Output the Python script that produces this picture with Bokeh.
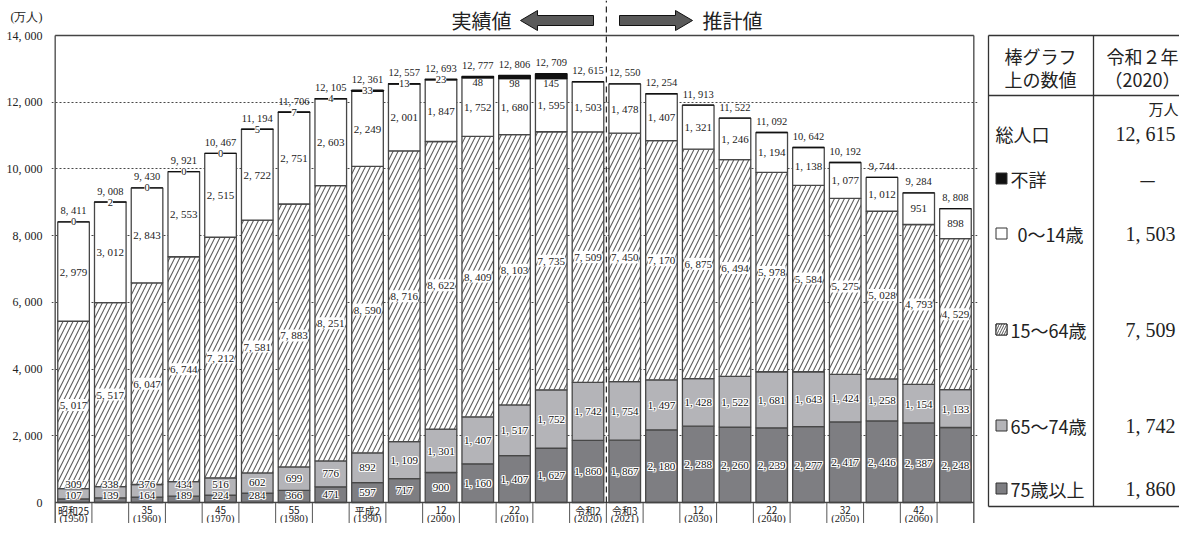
import numpy as np
from bokeh.plotting import figure
from bokeh.models import ColumnDataSource, Range1d, FixedTicker
from bokeh.layouts import row
from bokeh.core.properties import value
from bokeh.embed import file_html
from bokeh.resources import INLINE

# ---------------- data ----------------
years = [1950, 1955, 1960, 1965, 1970, 1975, 1980, 1985, 1990, 1995, 2000, 2005, 2010,
         2015, 2020, 2021, 2025, 2030, 2035, 2040, 2045, 2050, 2055, 2060, 2065]
era_labels = ["昭和25", "", "35", "", "45", "", "55", "", "平成2", "", "12", "", "22", "",
              "令和2", "令和3", "", "12", "", "22", "", "32", "", "42", ""]
year_labels = ["(1950)", "", "(1960)", "", "(1970)", "", "(1980)", "", "(1990)", "", "(2000)", "",
               "(2010)", "", "(2020)", "(2021)", "", "(2030)", "", "(2040)", "", "(2050)", "",
               "(2060)", ""]
age75 = [107, 139, 164, 189, 224, 284, 366, 471, 597, 717, 900, 1160, 1407, 1627, 1860, 1867,
         2180, 2288, 2260, 2239, 2277, 2417, 2446, 2387, 2248]
age65 = [309, 338, 376, 434, 516, 602, 699, 776, 892, 1109, 1301, 1407, 1517, 1752, 1742, 1754,
         1497, 1428, 1522, 1681, 1643, 1424, 1258, 1154, 1133]
age15 = [5017, 5517, 6047, 6744, 7212, 7581, 7883, 8251, 8590, 8716, 8622, 8409, 8103, 7735,
         7509, 7450, 7170, 6875, 6494, 5978, 5584, 5275, 5028, 4793, 4529]
age0 = [2979, 3012, 2843, 2553, 2515, 2722, 2751, 2603, 2249, 2001, 1847, 1752, 1680, 1595,
        1503, 1478, 1407, 1321, 1246, 1194, 1138, 1077, 1012, 951, 898]
unknown = [0, 2, 0, 0, 0, 5, 7, 4, 33, 13, 23, 48, 98, 145, None, None, None, None, None, None,
           None, None, None, None, None]
totals = [8411, 9008, 9430, 9921, 10467, 11194, 11706, 12105, 12361, 12557, 12693, 12777, 12806,
          12709, 12615, 12550, 12254, 11913, 11522, 11092, 10642, 10192, 9744, 9284, 8808]
y_ticks = [0, 2000, 4000, 6000, 8000, 10000, 12000, 14000]
grid_ticks = [2000, 4000, 6000, 8000, 10000, 12000]
unit_label = "(万人)"
legend_labels = ["総人口", "不詳", "0～14歳", "15～64歳", "65～74歳", "75歳以上"]
REF_YEAR = 2020


def fmt(v):
    return f"{int(v):,}".replace(",", ", ")


SERIF = "Liberation Serif"
JP = "Noto Sans CJK JP"
TXT = "#222222"

# ---------------- geometry (page pixels) ----------------
W_ALL, H = 1179, 523
W1 = 979
BL = 51
X0, X1 = -0.6, 24.6
PXD = 14000 / 467.0                 # value units per pixel
Y_TOP = 14000 + 35 * PXD
Y_BOT = -(H - 502) * PXD
SLOT = (W1 - BL - 2) / (X1 - X0)


def py(page_y):
    return (502 - page_y) * PXD


def px(page_x):
    return X0 + (page_x - BL) / SLOT


n = len(years)
xs = np.arange(n)
a75 = np.array(age75, float)
a65 = np.array(age65, float)
a15 = np.array(age15, float)
a0 = np.array(age0, float)
unk = np.array([np.nan if u is None else u for u in unknown], float)
unk0 = np.nan_to_num(unk)

t75 = a75
t65 = t75 + a65
t15 = t65 + a15
t0 = t15 + a0
tu = t0 + unk0

src = ColumnDataSource(dict(x=xs, t75=t75, t65=t65, t15=t15, t0=t0, tu=tu))

p = figure(width=W1, height=H, x_range=Range1d(X0, X1), y_range=Range1d(Y_BOT, Y_TOP),
           x_axis_location=None, toolbar_location=None, output_backend="svg",
           min_border_left=BL, min_border_right=2, min_border_top=0, min_border_bottom=0)
p.outline_line_color = None
p.background_fill_color = "white"
p.xgrid.visible = False
p.ygrid.ticker = FixedTicker(ticks=grid_ticks)
p.ygrid.grid_line_dash = "2 2"
p.ygrid.grid_line_color = "#333333"
p.ygrid.grid_line_width = 0.9
unit_pos = py(16)
p.yaxis.ticker = FixedTicker(ticks=y_ticks + [unit_pos])
overrides = {t: fmt(t) for t in y_ticks}
overrides[unit_pos] = unit_label
p.yaxis.major_label_overrides = overrides
p.yaxis.axis_line_color = None
p.yaxis.major_tick_line_color = None
p.yaxis.minor_tick_line_color = None
p.yaxis.major_label_text_font = SERIF
p.yaxis.major_label_text_font_size = "12px"
p.yaxis.major_label_text_color = TXT
p.yaxis.major_label_standoff = 3

BW = 0.86
LC = "#474747"
LW = 1.3
p.vbar(x="x", width=BW, bottom=0, top="t75", fill_color="#7e7e82", line_color=LC,
       line_width=LW, source=src)
p.vbar(x="x", width=BW, bottom="t75", top="t65", fill_color="#b4b4b8", line_color=LC,
       line_width=LW, source=src)
p.vbar(x="x", width=BW, bottom="t65", top="t15", fill_color="white", hatch_pattern="/",
       hatch_color="#5e5e5e", hatch_scale=10, hatch_weight=1.1, line_color=LC,
       line_width=LW, source=src)
p.vbar(x="x", width=BW, bottom="t15", top="t0", fill_color="white", line_color=LC,
       line_width=LW, source=src)
p.vbar(x="x", width=BW, bottom="t0", top="tu", fill_color="#111111", line_color="#111111",
       line_width=LW, source=src)

# frame and label grid
bnd = xs - 0.5
p.segment(x0=bnd[1:], y0=Y_BOT, x1=bnd[1:], y1=0, line_color="#555555", line_width=1)
p.segment(x0=[-0.5, n - 0.5], y0=[Y_BOT, Y_BOT], x1=[-0.5, n - 0.5], y1=[14000, 14000],
          line_color="#444444", line_width=1.3)
p.segment(x0=[-0.5, -0.5], y0=[14000, 0], x1=[n - 0.5, n - 0.5], y1=[14000, 0],
          line_color="#444444", line_width=1.3)

# divider between actual and projected
split = years.index(REF_YEAR) + 0.5
p.segment(x0=[split], y0=[0], x1=[split], y1=[Y_TOP], line_color="#222222", line_width=1.2,
          line_dash="6 4")

# ---------------- value labels ----------------
y75 = np.maximum(a75 / 2, 7 * PXD)
y65 = np.maximum(t75 + a65 / 2, y75 + 11 * PXD)
y15 = t65 + a15 / 2
y0 = t15 + a0 / 2

halo = [(dx, dy) for dx in (-1, 0, 1) for dy in (-1, 0, 1) if (dx, dy) != (0, 0)]
for yy, vals in ((y75, a75), (y65, a65)):
    labels = [fmt(v) for v in vals]
    for dx, dy in halo:
        p.text(x=xs, y=yy, text=labels, text_font=value(SERIF), text_font_size="11px",
               text_align="center", text_baseline="middle", text_color="white",
               x_offset=dx, y_offset=dy)
    p.text(x=xs, y=yy, text=labels, text_font=value(SERIF), text_font_size="11px",
           text_align="center", text_baseline="middle", text_color="#111111")

p.text(x=xs, y=y15, text=[fmt(v) for v in a15], text_font=value(SERIF), text_font_size="11px",
       text_align="center", text_baseline="middle", text_color=TXT,
       background_fill_color="white")
p.text(x=xs, y=y0, text=[fmt(v) for v in a0], text_font=value(SERIF), text_font_size="11px",
       text_align="center", text_baseline="middle", text_color=TXT)

on_line = [i for i in range(n) if not np.isnan(unk[i]) and unk[i] < 40]
below = [i for i in range(n) if not np.isnan(unk[i]) and unk[i] >= 40]
p.text(x=[xs[i] for i in on_line], y=[tu[i] for i in on_line],
       text=[fmt(unk[i]) for i in on_line], text_font=value(SERIF), text_font_size="10.5px",
       text_align="center", text_baseline="middle", text_color=TXT,
       background_fill_color="white")
p.text(x=[xs[i] for i in below], y=[t0[i] - 1 * PXD for i in below],
       text=[fmt(unk[i]) for i in below], text_font=value(SERIF), text_font_size="10.5px",
       text_align="center", text_baseline="top", text_color=TXT)

p.text(x=xs, y=tu + 11 * PXD, text=[fmt(v) for v in totals], text_font=value(SERIF),
       text_font_size="10.5px", text_align="center", text_baseline="middle",
       text_color=TXT)

# category labels
p.text(x=xs, y=py(509.5), text=era_labels, text_font=value(JP), text_font_size="10px",
       text_align="center", text_baseline="middle", text_color=TXT)
p.text(x=xs, y=py(518), text=year_labels, text_font=value(SERIF), text_font_size="10.5px",
       text_align="center", text_baseline="middle", text_color=TXT)

# header: 実績値 / 推計値 with arrows
p.text(x=[px(481), px(732)], y=[py(20), py(20)], text=["実績値", "推計値"],
       text_font=value(JP), text_font_size="20px", text_align="center",
       text_baseline="middle", text_color=TXT)
left_arrow = [(520, 20), (537, 10), (537, 15), (593, 15), (593, 25), (537, 25), (537, 30)]
right_arrow = [(619, 15), (675, 15), (675, 10), (692, 20), (675, 30), (675, 25), (619, 25)]
p.patches(xs=[[px(a) for a, b in left_arrow], [px(a) for a, b in right_arrow]],
          ys=[[py(b) for a, b in left_arrow], [py(b) for a, b in right_arrow]],
          fill_color="#5a5a5a", line_color="#111111", line_width=1)

# ---------------- table (legend) ----------------
t = figure(width=W_ALL - W1, height=H, x_range=Range1d(W1, W_ALL), y_range=Range1d(H, 0),
           x_axis_location=None, y_axis_location=None, toolbar_location=None,
           output_backend="svg", min_border=0)
t.outline_line_color = None
t.xgrid.grid_line_color = None
t.ygrid.grid_line_color = None

t.segment(x0=[988, 988, 988, 988, 1093], y0=[35, 95, 506, 35, 35],
          x1=[W_ALL + 2] * 3 + [988, 1093], y1=[35, 95, 506, 506, 506],
          line_color="#333333", line_width=1.3)

t.text(x=[1040, 1040, 1142, 1142], y=[55, 78, 55, 78],
       text=["棒グラフ", "上の数値", "令和２年", "（2020）"], text_font=value(JP),
       text_font_size="18px", text_align="center", text_baseline="middle",
       text_color=TXT)
t.text(x=[W_ALL - 1], y=[108], text=["万人"], text_font=value(JP), text_font_size="15px",
       text_align="right", text_baseline="middle", text_color=TXT)

ri = years.index(REF_YEAR)
row_y = [133, 178, 233, 329, 425, 488]
ref_vals = [totals[ri], unk[ri], age0[ri], age15[ri], age65[ri], age75[ri]]
val_text = ["—" if np.isnan(v) else fmt(v) for v in ref_vals]

t.text(x=[995], y=[row_y[0]], text=[legend_labels[0]], text_font=value(JP),
       text_font_size="18px", text_align="left", text_baseline="middle", text_color=TXT)
t.text(x=[1010, 1017, 1010, 1010, 1010], y=row_y[1:], text=legend_labels[1:],
       text_font=value(JP), text_font_size="18px", text_align="left",
       text_baseline="middle", text_color=TXT)
sq_y = row_y[1:]
t.rect(x=[1001] * 5, y=sq_y, width=11, height=11,
       fill_color=["#111111", "white", "white", "#b4b4b8", "#7e7e82"],
       line_color="#333333", line_width=1)
t.rect(x=[1001], y=[sq_y[2]], width=11, height=11, fill_color="white", hatch_pattern="/",
       hatch_color="#555555", hatch_scale=5, hatch_weight=1, line_color="#333333",
       line_width=1)

num_idx = [i for i in range(6) if val_text[i] != "—"]
t.text(x=[1175] * len(num_idx), y=[row_y[i] for i in num_idx],
       text=[val_text[i] for i in num_idx], text_font=value(SERIF), text_font_size="20px",
       text_align="right", text_baseline="middle", text_color=TXT)
dash_idx = [i for i in range(6) if val_text[i] == "—"]
t.text(x=[1147] * len(dash_idx), y=[row_y[i] for i in dash_idx],
       text=[val_text[i] for i in dash_idx], text_font=value(JP), text_font_size="18px",
       text_align="center", text_baseline="middle", text_color=TXT)

layout = row(p, t)
open("out.html", "w").write(file_html(layout, INLINE))
